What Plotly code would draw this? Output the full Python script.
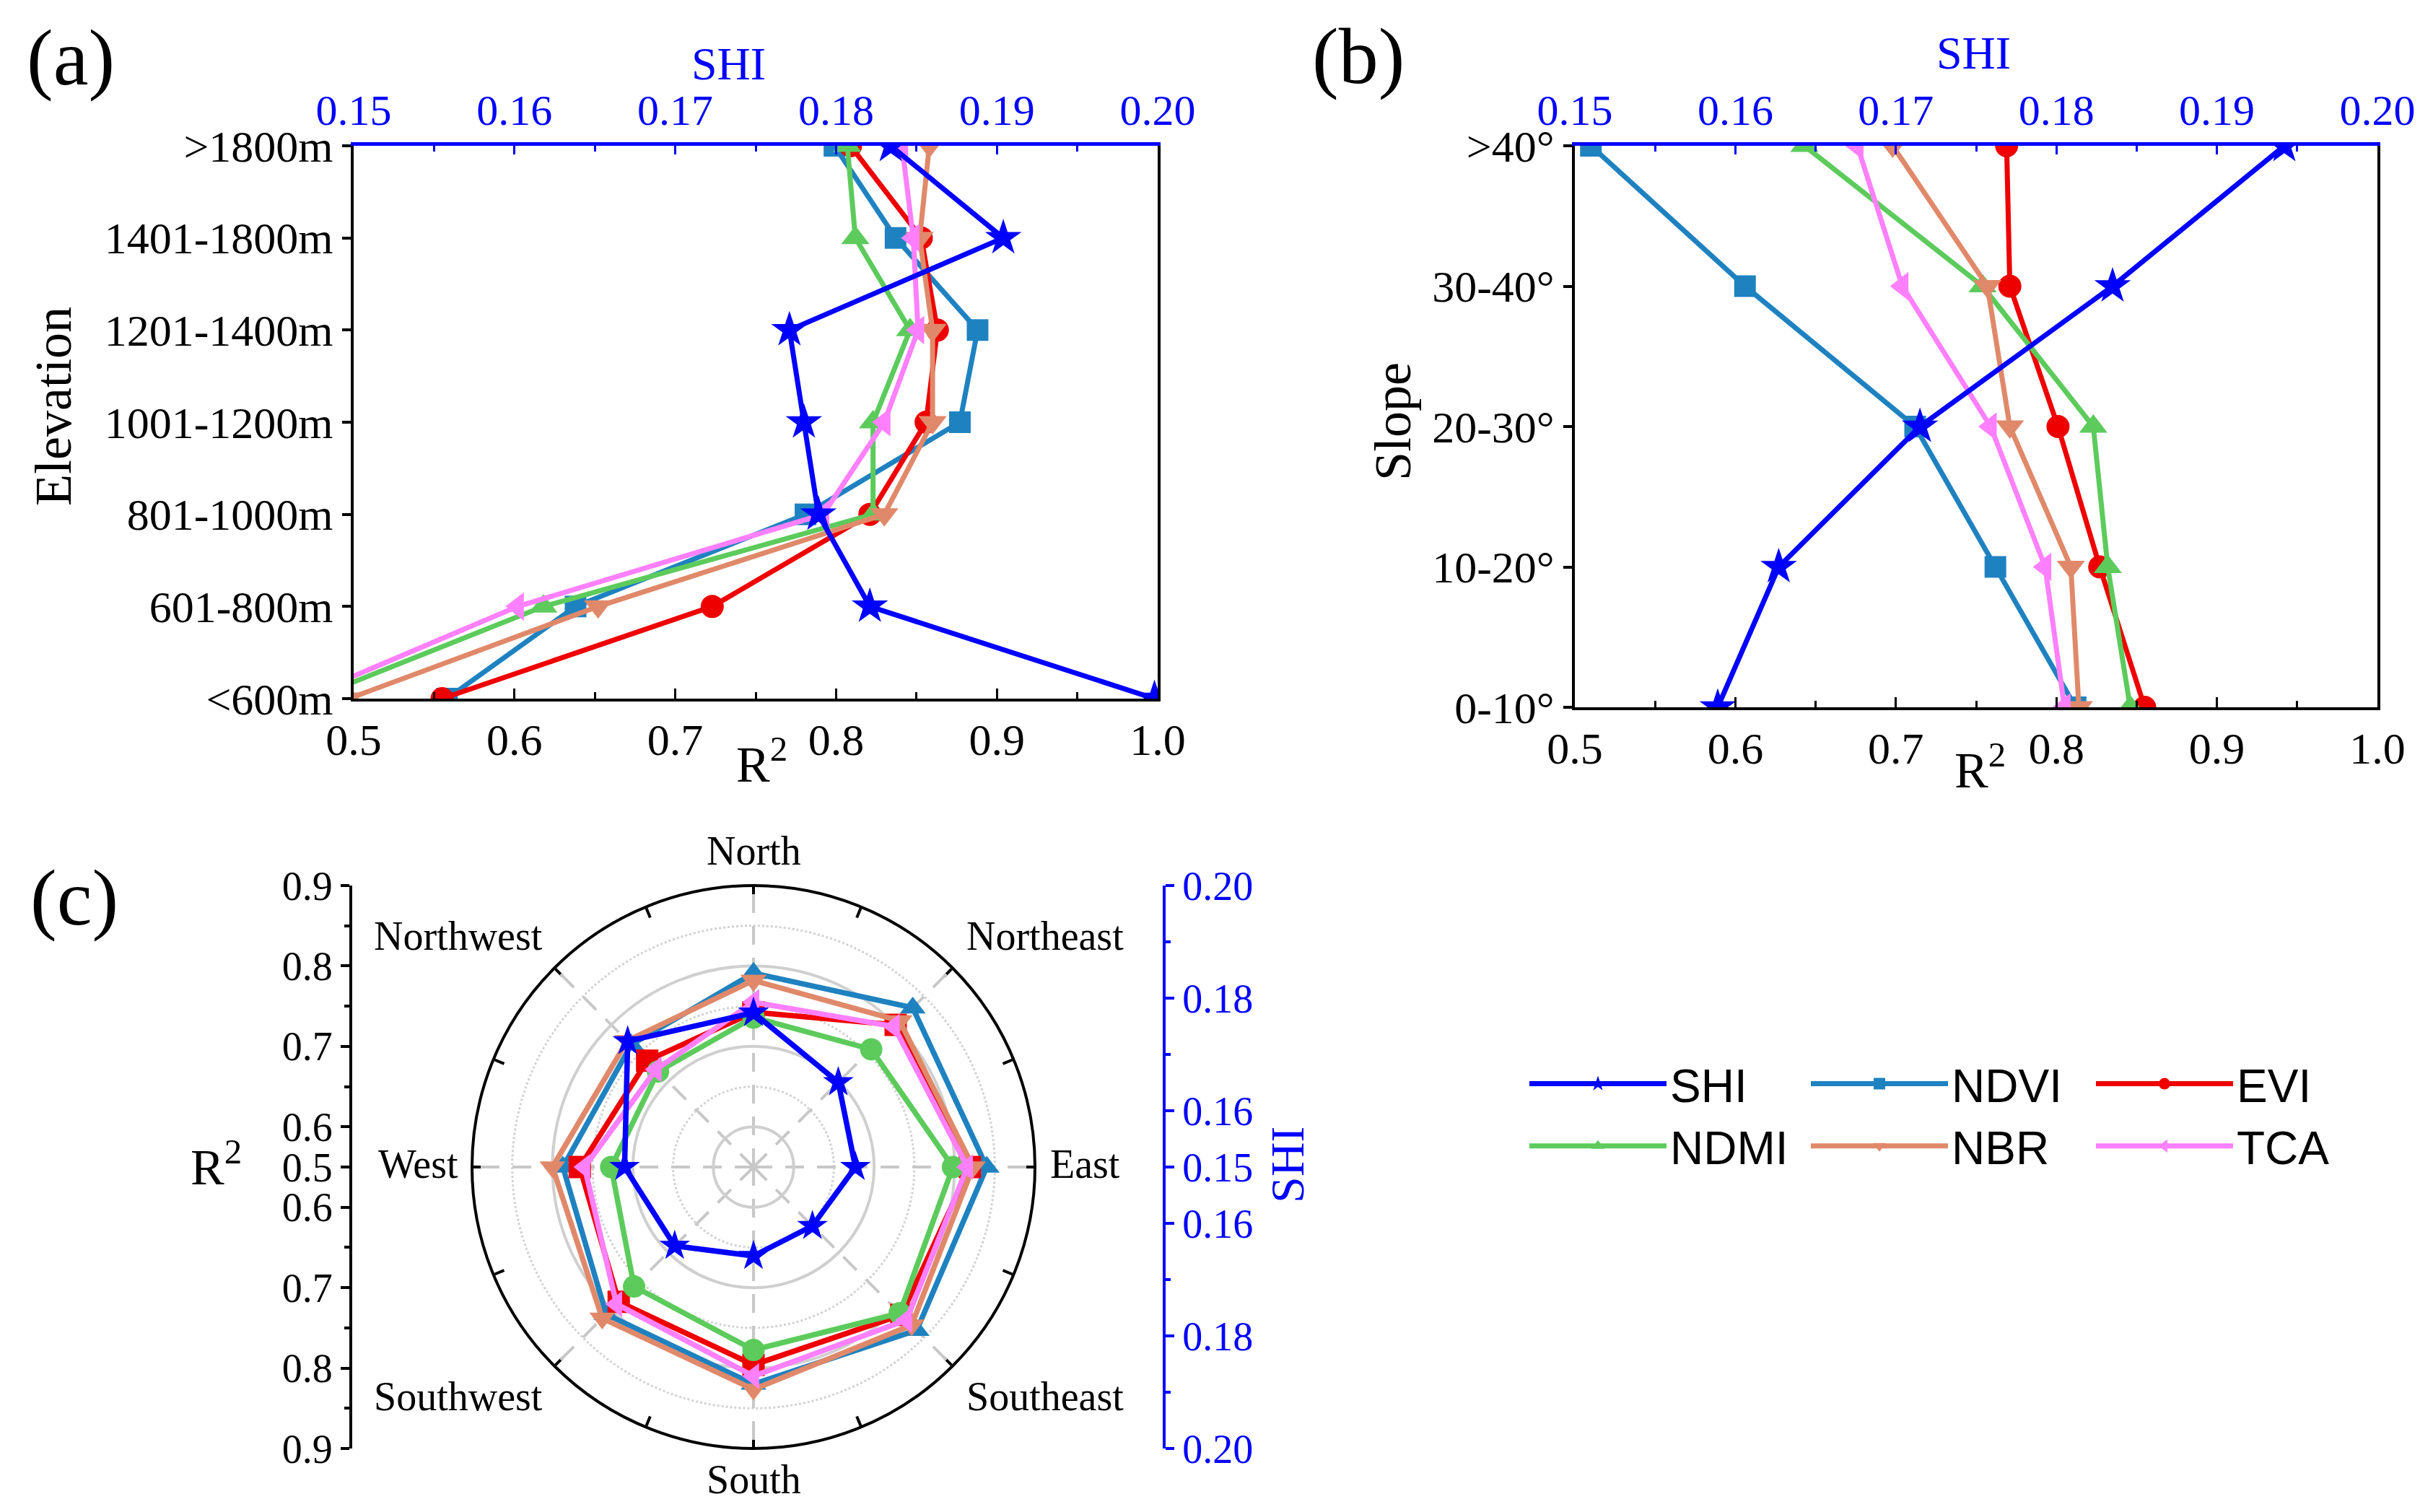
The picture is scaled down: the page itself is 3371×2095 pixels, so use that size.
import plotly.graph_objects as go

W, H = 3371, 2095

# ---------------- data ----------------
series_names = ["SHI", "NDVI", "EVI", "NDMI", "NBR", "TCA"]
colors = {"SHI": "#0000FF", "NDVI": "#1F82C0", "EVI": "#EE0000",
          "NDMI": "#5CCB5C", "NBR": "#E0896A", "TCA": "#FF80FF"}

# (a) elevation
elev_cats = ["<600m", "601-800m", "801-1000m", "1001-1200m", "1201-1400m", "1401-1800m", ">1800m"]
a_SHI = [0.1998, 0.1821, 0.1789, 0.1780, 0.1771, 0.1904, 0.1834]
a_NDVI = [0.558, 0.638, 0.781, 0.877, 0.888, 0.837, 0.799]
a_EVI = [0.555, 0.723, 0.821, 0.856, 0.863, 0.853, 0.809]
a_NDMI = [0.474, 0.618, 0.823, 0.823, 0.846, 0.812, 0.807]
a_NBR = [0.497, 0.652, 0.830, 0.860, 0.860, 0.852, 0.858]
a_TCA = [0.467, 0.602, 0.792, 0.830, 0.851, 0.848, 0.841]

# (b) slope
slope_cats = ["0-10°", "10-20°", "20-30°", "30-40°", ">40°"]
b_SHI = [0.1589, 0.1627, 0.1715, 0.1835, 0.1942]
b_NDVI = [0.812, 0.762, 0.712, 0.606, 0.510]
b_EVI = [0.855, 0.827, 0.801, 0.771, 0.769]
b_NDMI = [0.846, 0.832, 0.823, 0.754, 0.643]
b_NBR = [0.814, 0.809, 0.771, 0.757, 0.698]
b_TCA = [0.805, 0.793, 0.759, 0.704, 0.676]

# (c) aspect
directions = ["North", "Northeast", "East", "Southeast", "South", "Southwest", "West", "Northwest"]
c_SHI = [0.1774, 0.1713, 0.1681, 0.1648, 0.1658, 0.1698, 0.1729, 0.1816]
c_NDVI = [0.791, 0.830, 0.840, 0.837, 0.820, 0.809, 0.787, 0.765]
c_EVI = [0.7425, 0.800, 0.819, 0.810, 0.796, 0.787, 0.766, 0.737]
c_NDMI = [0.736, 0.757, 0.798, 0.807, 0.7775, 0.760, 0.727, 0.718]
c_NBR = [0.782, 0.807, 0.823, 0.828, 0.8265, 0.816, 0.800, 0.772]
c_TCA = [0.755, 0.797, 0.816, 0.819, 0.810, 0.791, 0.760, 0.7215]

r2_ticks = [0.5, 0.6, 0.7, 0.8, 0.9]
shi_ticks = [0.15, 0.16, 0.18, 0.20]

# ---------------- styling ----------------
SERIF = "Liberation Serif"
SANS = "Liberation Sans"
BLUE = "#0000FF"
sym_ab = {"SHI": "star", "NDVI": "square", "EVI": "circle",
          "NDMI": "triangle-up", "NBR": "triangle-down", "TCA": "triangle-left"}
sym_c = {"SHI": "star", "NDVI": "triangle-up", "EVI": "square",
         "NDMI": "circle", "NBR": "triangle-down", "TCA": "triangle-left"}
msize = {"SHI": 38, "NDVI": 30, "EVI": 32, "NDMI": 34, "NBR": 34, "TCA": 34}


def px(x, y):
    return x / W, 1 - y / H


fig = go.Figure()

a_data = {"SHI": a_SHI, "NDVI": a_NDVI, "EVI": a_EVI, "NDMI": a_NDMI, "NBR": a_NBR, "TCA": a_TCA}
b_data = {"SHI": b_SHI, "NDVI": b_NDVI, "EVI": b_EVI, "NDMI": b_NDMI, "NBR": b_NBR, "TCA": b_TCA}
c_data = {"SHI": c_SHI, "NDVI": c_NDVI, "EVI": c_EVI, "NDMI": c_NDMI, "NBR": c_NBR, "TCA": c_TCA}

draw_order = ["NDVI", "EVI", "NDMI", "NBR", "TCA", "SHI"]
legend_of = {"SHI": "legend", "NDMI": "legend",
             "NDVI": "legend2", "NBR": "legend2",
             "EVI": "legend3", "TCA": "legend3"}

for name in draw_order:
    fig.add_trace(go.Scatter(
        x=a_data[name], y=elev_cats, name=name, mode="lines+markers",
        xaxis="x2" if name == "SHI" else "x", yaxis="y",
        line=dict(color=colors[name], width=7),
        marker=dict(symbol=sym_ab[name], size=msize[name], color=colors[name]),
        legend=legend_of[name], legendrank=series_names.index(name), showlegend=True))

for name in draw_order:
    fig.add_trace(go.Scatter(
        x=b_data[name], y=slope_cats, name=name, mode="lines+markers",
        xaxis="x4" if name == "SHI" else "x3", yaxis="y2",
        line=dict(color=colors[name], width=7),
        marker=dict(symbol=sym_ab[name], size=msize[name], color=colors[name]),
        showlegend=False))

# polar: radial scale R2 0.55 (centre) .. 0.9 (outer); SHI 0.15 .. 0.20 on same ring
R_MIN, R_MAX = 0.55, 0.9
S_MIN, S_MAX = 0.15, 0.20
theta_deg = [i * 360 / len(directions) for i in range(len(directions))]

# empty carrier traces so the helper subplots (grid underlay, side axes) are drawn
fig.add_trace(go.Scatterpolar(r=[], theta=[], subplot="polar", showlegend=False, hoverinfo="skip"))
fig.add_trace(go.Scatter(x=[], y=[], xaxis="x5", yaxis="y3", showlegend=False, hoverinfo="skip"))
fig.add_trace(go.Scatter(x=[], y=[], xaxis="x6", yaxis="y4", showlegend=False, hoverinfo="skip"))

for name in draw_order:
    vals = c_data[name]
    if name == "SHI":
        vals = [R_MIN + (v - S_MIN) / (S_MAX - S_MIN) * (R_MAX - R_MIN) for v in vals]
    fig.add_trace(go.Scatterpolar(
        r=vals + vals[:1], theta=theta_deg + theta_deg[:1], subplot="polar2",
        mode="lines+markers", name=name, showlegend=False,
        line=dict(color=colors[name], width=7.5),
        marker=dict(symbol=sym_c[name], size=31 if name != "SHI" else 32, color=colors[name])))

# ---------------- axes (a) & (b) ----------------
tickfont = dict(family=SERIF, size=62, color="black")
bluefont = dict(family=SERIF, size=60, color=BLUE)


def bottom_axis(domain, anchor):
    return dict(domain=domain, anchor=anchor, range=[0.5, 1.0], tickvals=[0.5, 0.6, 0.7, 0.8, 0.9, 1.0],
                ticktext=["0.5", "0.6", "0.7", "0.8", "0.9", "1.0"],
                ticks="inside", ticklen=14, tickwidth=3, tickcolor="black",
                minor=dict(ticks="inside", ticklen=9, tickwidth=3, tickcolor="black", dtick=0.05, showgrid=False),
                showline=True, linecolor="black", linewidth=4, showgrid=False, zeroline=False,
                tickfont=tickfont, automargin=False)


def top_axis(over, anchor):
    return dict(overlaying=over, anchor=anchor, side="top", range=[0.15, 0.20],
                tickvals=[0.15, 0.16, 0.17, 0.18, 0.19, 0.20],
                ticktext=["0.15", "0.16", "0.17", "0.18", "0.19", "0.20"],
                ticks="inside", ticklen=12, tickwidth=3, tickcolor=BLUE,
                minor=dict(ticks="inside", ticklen=8, tickwidth=3, tickcolor=BLUE, dtick=0.005, showgrid=False),
                showline=True, linecolor=BLUE, linewidth=5, showgrid=False, zeroline=False,
                tickfont=bluefont, automargin=False)


def cat_axis(domain, anchor, cats):
    return dict(domain=domain, anchor=anchor, type="category", categoryorder="array",
                categoryarray=cats, range=[0, len(cats) - 1],
                ticks="outside", ticklen=12, tickwidth=4, tickcolor="black",
                showline=True, linecolor="black", linewidth=4, mirror=True,
                showgrid=False, zeroline=False, tickfont=tickfont, automargin=False)


a_x = [482 / W, 1596 / W]
a_y = [1 - 960 / H, 1 - 194 / H]
b_x = [2174 / W, 3286 / W]
b_y = [1 - 972 / H, 1 - 194 / H]

# ---------------- polar (c) ----------------
cx, cy, R = 1036, 1609, 390
pol_x = [(cx - R) / W, (cx + R) / W]
pol_y = [1 - (cy + R) / H, 1 - (cy - R) / H]
minor_theta = [i * 22.5 for i in range(16)]

polar_under = dict(
    domain=dict(x=pol_x, y=pol_y), bgcolor="white",
    radialaxis=dict(range=[R_MIN, R_MAX], tickvals=[0.65, 0.75, 0.85], showgrid=True,
                    gridcolor="#D2D2D2", griddash="dot", gridwidth=3,
                    showticklabels=False, ticks="", showline=False),
    angularaxis=dict(rotation=90, direction="clockwise", tickvals=minor_theta,
                     showticklabels=False, ticks="inside", ticklen=14,
                     tickwidth=4, tickcolor="black", showgrid=False,
                     showline=True, linecolor="black", linewidth=4))
polar_over = dict(
    domain=dict(x=pol_x, y=pol_y), bgcolor="rgba(0,0,0,0)",
    radialaxis=dict(range=[R_MIN, R_MAX], tickvals=[0.6, 0.7, 0.8], showgrid=True,
                    gridcolor="#CFCFCF", gridwidth=4,
                    showticklabels=False, ticks="", showline=False),
    angularaxis=dict(rotation=90, direction="clockwise", tickvals=theta_deg,
                     showticklabels=False, ticks="", showgrid=True, gridcolor="#C8C8C8",
                     griddash="26px,18px", gridwidth=3.5, showline=False))

# left R2 axis for (c): signed distance from centre (R2 - 0.55)
r_span = R_MAX - R_MIN
left_vals, left_text = [], []
for t in r2_ticks:
    d = t - R_MIN if t > 0.5 else 0.0
    if d == 0:
        left_vals.append(0.0); left_text.append(f"{t:.1f}")
    else:
        left_vals += [d, -d]; left_text += [f"{t:.1f}", f"{t:.1f}"]
left_minor = []
for t in [0.65, 0.75, 0.85]:
    left_minor += [t - R_MIN, -(t - R_MIN)]

s_span = S_MAX - S_MIN
right_vals, right_text = [], []
for t in shi_ticks:
    d = t - S_MIN
    if d < 1e-9:
        right_vals.append(0.0); right_text.append(f"{t:.2f}")
    else:
        right_vals += [d, -d]; right_text += [f"{t:.2f}", f"{t:.2f}"]
right_minor = []
for t in [0.17, 0.19]:
    right_minor += [t - S_MIN, -(t - S_MIN)]

ax_y = [1 - (cy + R) / H, 1 - (cy - R) / H]

leg_common = dict(orientation="v", yanchor="middle", xanchor="left",
                  font=dict(family=SANS, size=64, color="black"),
                  bgcolor="rgba(0,0,0,0)", itemwidth=190, traceorder="normal")
leg_y = 1 - 1537 / H

fig.update_layout(
    width=W, height=H, margin=dict(l=0, r=0, t=0, b=0),
    paper_bgcolor="white", plot_bgcolor="rgba(0,0,0,0)",
    font=dict(family=SERIF, color="black"),
    xaxis=bottom_axis(a_x, "y"), xaxis2=top_axis("x", "y"), yaxis=cat_axis(a_y, "x", elev_cats),
    xaxis3=bottom_axis(b_x, "y2"), xaxis4=top_axis("x3", "y2"), yaxis2=cat_axis(b_y, "x3", slope_cats),
    xaxis5=dict(domain=[480 / W, 481 / W], anchor="y3", range=[0, 1], visible=False),
    yaxis3=dict(domain=ax_y, anchor="x5", side="left", range=[-r_span, r_span],
                tickvals=left_vals, ticktext=left_text, ticks="outside", ticklen=12, tickwidth=4,
                tickcolor="black", minor=dict(tickvals=left_minor, ticks="outside", ticklen=7,
                                              tickwidth=4, tickcolor="black", showgrid=False),
                showline=True, linecolor="black", linewidth=4, showgrid=False, zeroline=False,
                tickfont=dict(family=SERIF, size=56, color="black"), automargin=False),
    xaxis6=dict(domain=[1602 / W, 1603 / W], anchor="y4", range=[0, 1], visible=False),
    yaxis4=dict(domain=ax_y, anchor="x6", side="right", range=[-s_span, s_span],
                tickvals=right_vals, ticktext=right_text, ticks="outside", ticklen=12, tickwidth=4,
                tickcolor=BLUE, minor=dict(tickvals=right_minor, ticks="outside", ticklen=7,
                                           tickwidth=4, tickcolor=BLUE, showgrid=False),
                showline=True, linecolor=BLUE, linewidth=4, showgrid=False, zeroline=False,
                tickfont=dict(family=SERIF, size=56, color=BLUE), automargin=False),
    polar=polar_under, polar2=polar_over,
    legend=dict(x=2106 / W, y=leg_y, **leg_common),
    legend2=dict(x=2496 / W, y=leg_y, **leg_common),
    legend3=dict(x=2891 / W, y=leg_y, **leg_common),
)

ann = []


def add_text(text, x, y, size, color="black", angle=0, family=SERIF):
    xx, yy = px(x, y)
    ann.append(dict(text=text, x=xx, y=yy, xref="paper", yref="paper", showarrow=False,
                    xanchor="center", yanchor="middle", textangle=angle,
                    font=dict(family=family, size=size, color=color)))


add_text("(a)", 90, 72, 110)
add_text("(b)", 1874, 70, 110)
add_text("(c)", 95, 1236, 110)
add_text("SHI", 1002, 80, 64, BLUE)
add_text("SHI", 2726, 66, 64, BLUE)
add_text("R<sup>2</sup>", 1047, 1046, 70)
add_text("R<sup>2</sup>", 2735, 1054, 70)
add_text("Elevation", 66, 555, 72, angle=-90)
add_text("Slope", 1922, 576, 72, angle=-90)
add_text("R<sup>2</sup>", 291, 1604, 70)
add_text("SHI", 1775, 1606, 66, BLUE, angle=-90)

# direction labels of the aspect wheel (offsets from the wheel centre, px)
dir_offsets = [(0, -434), (404, -316), (459, 0), (404, 322),
               (0, 437), (-409, 322), (-465, 0), (-409, -316)]
for lab, (dx, dy) in zip(directions, dir_offsets):
    add_text(lab, cx + dx, cy + dy - 4, 56)

fig.update_layout(annotations=ann)
fig.write_html("out.html")
